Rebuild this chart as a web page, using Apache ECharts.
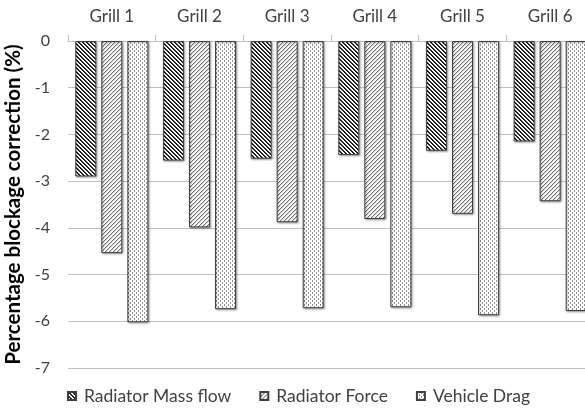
<!DOCTYPE html>
<html>
<head>
<meta charset="utf-8">
<script src="https://cdn.jsdelivr.net/npm/echarts@6/dist/echarts.min.js"></script>
<style>
  html, body { margin: 0; padding: 0; background: #fff; }
  #chart { width: 585px; height: 409px; }
</style>
</head>
<body>
<div id="chart"></div>
<script>
// Blockage correction per grill configuration (%)
const grills = ['Grill 1', 'Grill 2', 'Grill 3', 'Grill 4', 'Grill 5', 'Grill 6'];
const radiatorMassFlow = [-2.90, -2.56, -2.52, -2.44, -2.35, -2.15];
const radiatorForce    = [-4.54, -3.99, -3.88, -3.81, -3.70, -3.43];
const vehicleDrag      = [-6.02, -5.74, -5.72, -5.70, -5.87, -5.78];
const seriesNames = ['Radiator Mass flow', 'Radiator Force', 'Vehicle Drag'];

const FONT = 'Lato';

// Build a small repeating fill tile from a per-pixel rule
function makePattern(size, fn) {
  const c = document.createElement('canvas');
  c.width = size; c.height = size;
  const ctx = c.getContext('2d');
  ctx.fillStyle = '#ffffff';
  ctx.fillRect(0, 0, size, size);
  for (let y = 0; y < size; y++) {
    for (let x = 0; x < size; x++) {
      const col = fn(x, y);
      if (col) { ctx.fillStyle = col; ctx.fillRect(x, y, 1, 1); }
    }
  }
  return { image: c, repeat: 'repeat' };
}

// dark downward diagonal stripes
const patMass = makePattern(4, (x, y) => {
  const d = ((x - y) % 4 + 4) % 4;
  return d === 0 ? '#111' : (d === 1 ? '#333' : null);
});
// light upward diagonal stripes
const patForce = makePattern(4, (x, y) => {
  const d = (x + y) % 4;
  return d === 0 ? '#6e6e6e' : (d === 1 ? '#d0d0d0' : null);
});
// small staggered dots
const patDrag = makePattern(4, (x, y) => {
  if (x === 0 && (y === 0 || y === 1)) return '#8f8f8f';
  if (x === 2 && (y === 2 || y === 3)) return '#8f8f8f';
  return null;
});
const patterns = [patMass, patForce, patDrag];
const values = [radiatorMassFlow, radiatorForce, vehicleDrag];

const chart = echarts.init(document.getElementById('chart'), null, { renderer: 'canvas' });

chart.setOption({
  animation: false,
  backgroundColor: '#ffffff',
  textStyle: { fontFamily: FONT },
  grid: { left: 68, top: 41, width: 526, bottom: 41, containLabel: false, outerBoundsMode: 'none' },
  legend: {
    data: seriesNames,
    left: 62,
    top: 382,
    itemWidth: 8,
    itemHeight: 8,
    itemGap: 28,
    icon: 'rect',
    textStyle: { fontFamily: FONT, fontSize: 17.5, color: '#404040', padding: [0, 0, 0, 3] }
  },
  xAxis: {
    type: 'category',
    position: 'top',
    data: grills,
    axisLine: { lineStyle: { color: '#bfbfbf', width: 1 } },
    axisTick: { show: true, inside: false, length: 6, lineStyle: { color: '#bfbfbf' } },
    axisLabel: { fontFamily: FONT, fontSize: 17, color: '#404040', margin: 16 }
  },
  yAxis: {
    type: 'value',
    min: -7,
    max: 0,
    interval: 1,
    name: 'Percentage blockage correction (%)',
    nameLocation: 'middle',
    nameRotate: 90,
    nameGap: 37,
    nameTextStyle: { fontFamily: FONT, fontSize: 20.5, fontWeight: 'bold', color: '#000' },
    axisLine: { show: false },
    axisTick: { show: false },
    axisLabel: { fontFamily: FONT, fontSize: 16, color: '#404040', margin: 18 },
    splitLine: { lineStyle: { color: '#c0c0c0', width: 1 } }
  },
  series: seriesNames.map((name, i) => ({
    name: name,
    type: 'bar',
    data: values[i],
    barWidth: 21,
    barGap: '24%',
    itemStyle: {
      color: patterns[i],
      borderColor: '#404040',
      borderWidth: 1,
      shadowColor: 'rgba(0,0,0,0.35)',
      shadowBlur: 2,
      shadowOffsetX: 1,
      shadowOffsetY: 1
    }
  }))
});
</script>
</body>
</html>
